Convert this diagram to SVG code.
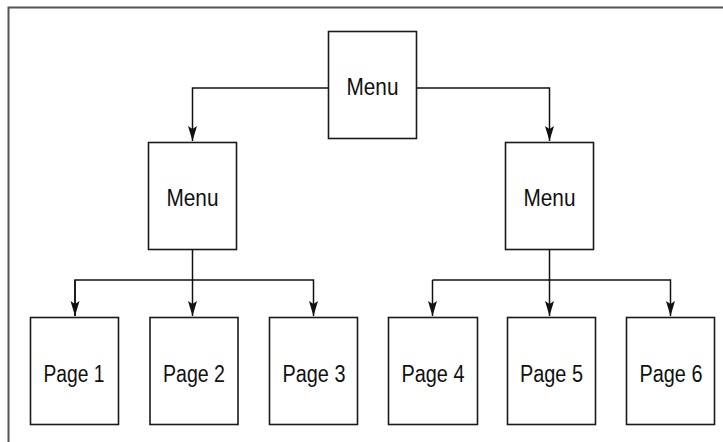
<svg xmlns="http://www.w3.org/2000/svg" width="723" height="442" viewBox="0 0 723 442">
<style>
.box{fill:#fff;stroke:#1a1a1a;stroke-width:1.6}
.lbl{font-family:"Liberation Sans",Arial,sans-serif;font-size:23.5px;fill:#111;text-anchor:middle}
.con{fill:none;stroke:#111;stroke-width:1.5}
.frame{stroke:#555;stroke-width:2;fill:none}
</style>
<defs>
<marker id="ah" viewBox="0 0 15 10" refX="15" refY="5" markerWidth="15" markerHeight="10" markerUnits="userSpaceOnUse" orient="auto">
<path d="M0,0.5 L15,5 L0,9.5 L3,5 Z" fill="#111"/>
</marker>
</defs>
<rect width="723" height="442" fill="#fff"/>
<path class="frame" d="M8.5,442 V7.5 H723"/>
<g id="connectors">
<path class="con" d="M328,88 H192.5 V141" marker-end="url(#ah)"/>
<path class="con" d="M417,88 H549.5 V141" marker-end="url(#ah)"/>
<path class="con" d="M192.5,250 V316" marker-end="url(#ah)"/>
<path class="con" d="M75,316 V280 H313.5 V316" marker-end="url(#ah)"/>
<path class="con" d="M75,280 V316" marker-end="url(#ah)"/>
<path class="con" d="M549.5,250 V316" marker-end="url(#ah)"/>
<path class="con" d="M432.5,280 H670.5 V316" marker-end="url(#ah)"/>
<path class="con" d="M432.5,280 V316" marker-end="url(#ah)"/>
</g>
<g id="menu-top">
<rect class="box" x="328.5" y="31.5" width="88" height="107"/>
<text class="lbl" x="372.5" y="95" textLength="52" lengthAdjust="spacingAndGlyphs">Menu</text>
</g>
<g id="menu-left">
<rect class="box" x="148.5" y="142.5" width="88" height="107"/>
<text class="lbl" x="192.5" y="206" textLength="52" lengthAdjust="spacingAndGlyphs">Menu</text>
</g>
<g id="menu-right">
<rect class="box" x="505.5" y="142.5" width="88" height="107"/>
<text class="lbl" x="549.5" y="206" textLength="52" lengthAdjust="spacingAndGlyphs">Menu</text>
</g>
<g id="page1">
<rect class="box" x="30.5" y="317.5" width="88" height="107"/>
<text class="lbl" x="74" y="382" textLength="61" lengthAdjust="spacingAndGlyphs">Page 1</text>
</g>
<g id="page2">
<rect class="box" x="150" y="317.5" width="88" height="107"/>
<text class="lbl" x="194" y="382" textLength="62" lengthAdjust="spacingAndGlyphs">Page 2</text>
</g>
<g id="page3">
<rect class="box" x="269.5" y="317.5" width="88" height="107"/>
<text class="lbl" x="314" y="382" textLength="63" lengthAdjust="spacingAndGlyphs">Page 3</text>
</g>
<g id="page4">
<rect class="box" x="388.5" y="317.5" width="89" height="107"/>
<text class="lbl" x="433" y="382" textLength="63" lengthAdjust="spacingAndGlyphs">Page 4</text>
</g>
<g id="page5">
<rect class="box" x="507.5" y="317.5" width="88" height="107"/>
<text class="lbl" x="551.5" y="382" textLength="63" lengthAdjust="spacingAndGlyphs">Page 5</text>
</g>
<g id="page6">
<rect class="box" x="626.5" y="317.5" width="88" height="107"/>
<text class="lbl" x="671" y="382" textLength="63" lengthAdjust="spacingAndGlyphs">Page 6</text>
</g>
</svg>
